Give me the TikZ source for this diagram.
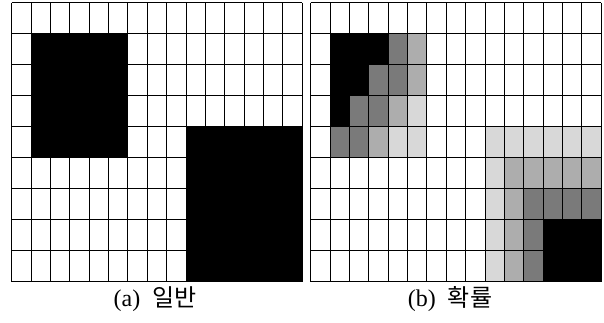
\documentclass[tikz,border=0pt]{standalone}
\usepackage{fontspec}
\setmainfont{Liberation Serif}
\newfontfamily\kr{Noto Sans CJK KR}
\definecolor{gdark}{HTML}{7A7A7A}
\definecolor{gmid}{HTML}{ADADAD}
\definecolor{glight}{HTML}{D8D8D8}
\tikzset{
  gridline/.style={draw=black, line width=0.9pt},
  caption/.style={font=\fontsize{24}{28}\selectfont, inner sep=0pt, anchor=center},
  cellscope/.style={x=19.373pt, y=-31pt}
}
\begin{document}
\begin{tikzpicture}[x=1pt,y=-1pt]
\useasboundingbox (0,0) rectangle (604,323);
\fill[white] (0,0) rectangle (604,323);
% ---- left grid (a)
\begin{scope}[xshift=11.7pt, yshift=-2.7pt, cellscope]
  \fill[black] (1,1) rectangle (6,5);
  \fill[black] (9,4) rectangle (15,9);
  \foreach \i in {0,...,15} \draw[gridline] (\i,0) -- (\i,9);
  \foreach \j in {0,...,9} \draw[gridline] (0,\j) -- (15,\j);
\end{scope}
% ---- right grid (b)
\begin{scope}[xshift=310.7pt, yshift=-2.7pt, cellscope]
  \foreach \c/\r in {1/1,2/1,3/1, 1/2,2/2, 1/3, 12/7,13/7,14/7, 12/8,13/8,14/8}
    \fill[black] (\c,\r) rectangle ++(1,1);
  \foreach \c/\r in {4/1, 3/2,4/2, 2/3,3/3, 1/4,2/4, 11/6,12/6,13/6,14/6, 11/7, 11/8}
    \fill[gdark] (\c,\r) rectangle ++(1,1);
  \foreach \c/\r in {5/1, 5/2, 4/3, 3/4, 10/5,11/5,12/5,13/5,14/5, 10/6, 10/7, 10/8}
    \fill[gmid] (\c,\r) rectangle ++(1,1);
  \foreach \c/\r in {5/3, 4/4,5/4, 9/4,10/4,11/4,12/4,13/4,14/4, 9/5, 9/6, 9/7, 9/8}
    \fill[glight] (\c,\r) rectangle ++(1,1);
  \foreach \i in {0,...,15} \draw[gridline] (\i,0) -- (\i,9);
  \foreach \j in {0,...,9} \draw[gridline] (0,\j) -- (15,\j);
\end{scope}
% ---- captions
\node[caption] (capa) at (155,299.5) {(a)\hspace{0.5em}{\kr 일반}};
\node[caption] (capb) at (450,299.5) {(b)\hspace{0.5em}{\kr 확률}};
\end{tikzpicture}
\end{document}
